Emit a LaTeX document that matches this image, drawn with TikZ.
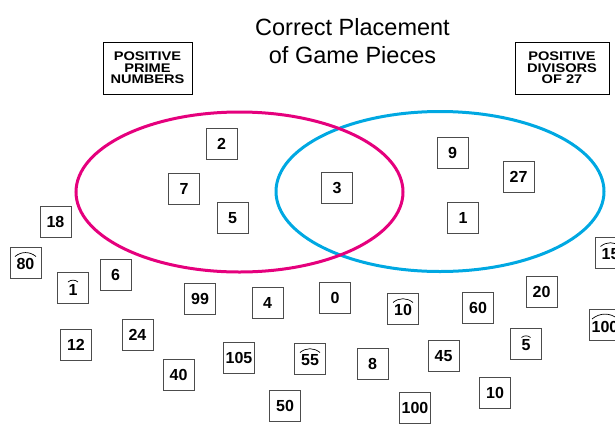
\documentclass[tikz,border=0pt]{standalone}
\usepackage{fontspec}
\setmainfont{Liberation Sans}
\newfontfamily\labelfont[FakeStretch=1.17]{Liberation Sans}
\usepackage{xcolor}
\usepackage{tikz}
\usetikzlibrary{positioning}
\definecolor{primemagenta}{RGB}{229,0,125}
\definecolor{divcyan}{RGB}{0,168,226}
\newcommand{\low}[1]{\raisebox{0pt}[14pt][0pt]{#1}}

\begin{document}
\begin{tikzpicture}[x=1pt, y=-1pt,
    piece/.style={draw=black!70, line width=0.8pt, minimum size=31pt, inner sep=0pt, font=\bfseries\fontsize{16}{16}\selectfont},
    setlabel/.style={draw, line width=1pt, minimum height=52pt, inner sep=0pt, align=center, font=\labelfont\bfseries\fontsize{12.5}{11.5}\selectfont},
    setring/.style={line width=3pt},
    hatmark/.style={line width=0.7pt, bend left=40}
]
\useasboundingbox (0,0) rectangle (615,429);

\node[align=center, font=\fontsize{23.5}{28}\selectfont] (title) at (352.5,41) {Correct Placement\\of Game Pieces};
\node[setlabel, minimum width=89pt] (primes) at (147.5,68) {POSITIVE\\PRIME\\NUMBERS};
\node[setlabel, minimum width=94pt] (divisors) at (562,68) {POSITIVE\\DIVISORS\\OF 27};

\draw[setring, divcyan] (440,191.5) ellipse [x radius=164pt, y radius=80pt];
\draw[setring, primemagenta] (239.5,192) ellipse [x radius=163.5pt, y radius=80pt];

\node[piece] (p2) at (221.5,144) {2};
\node[piece] (p7) at (184,189) {7};
\node[piece] (p5) at (232.5,218) {5};
\node[piece] (p3) at (337,188) {3};
\node[piece] (p9) at (452.5,153) {9};
\node[piece] (p27) at (518.5,176.5) {27};
\node[piece] (p1) at (463,217.5) {1};

\node[piece] (p18) at (55.5,221.5) {18};
\node[piece] (h80) at (25.5,262.5) {\low{80}};
\node[piece] (h1) at (73,288) {\low{1}};
\node[piece] (p6) at (115.5,274.5) {6};
\node[piece] (p99) at (200,298.5) {99};
\node[piece] (p4) at (267.5,303) {4};
\node[piece] (p0) at (335,297.5) {0};
\node[piece] (h10) at (403,308.5) {\low{10}};
\node[piece] (p60) at (478,307.5) {60};
\node[piece] (p20) at (541.5,291.5) {20};
\node[piece] (h15) at (610.5,252.5) {\low{15}};
\node[piece] (h100) at (605,325) {\low{100}};
\node[piece] (p12) at (76,345) {12};
\node[piece] (p24) at (137.5,335) {24};
\node[piece] (p40) at (178.5,374.5) {40};
\node[piece] (p105) at (239,357.5) {105};
\node[piece] (h55) at (310,358.5) {\low{55}};
\node[piece] (p8) at (372.5,364) {8};
\node[piece] (p45) at (443.5,356) {45};
\node[piece] (h5) at (526,343.5) {\low{5}};
\node[piece] (p10) at (495,393) {10};
\node[piece] (p50) at (285,406) {50};
\node[piece] (p100) at (415,407.5) {100};

\foreach \n/\w in {h80/10.5, h1/5, h10/10, h15/10, h100/13, h55/10, h5/4.5}
    \draw[hatmark] ([xshift=-\w pt, yshift=6pt]\n.center) to ([xshift=\w pt, yshift=6pt]\n.center);
\end{tikzpicture}
\end{document}
